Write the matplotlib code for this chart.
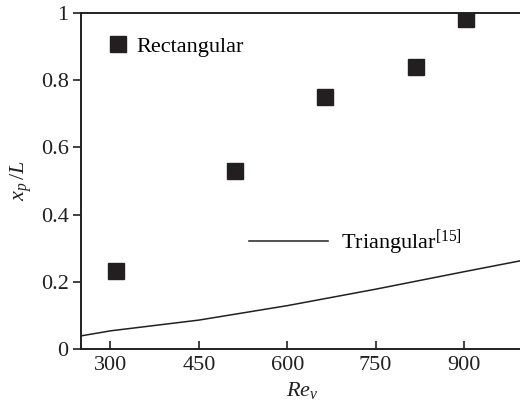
import matplotlib
matplotlib.use("Agg")
import matplotlib.pyplot as plt
from matplotlib.lines import Line2D

plt.rcParams['font.family'] = ['Liberation Serif', 'DejaVu Serif']
plt.rcParams['mathtext.fontset'] = 'custom'
plt.rcParams['mathtext.rm'] = 'Liberation Serif'
plt.rcParams['mathtext.it'] = 'Liberation Serif:italic'
plt.rcParams['mathtext.bf'] = 'Liberation Serif:bold'

# Data
rect_re = [310, 511, 664, 818, 903]
rect_xp = [0.232, 0.53, 0.75, 0.839, 0.982]
tri_re = [250, 300, 450, 600, 750, 900, 1000]
tri_xp = [0.039, 0.054, 0.086, 0.129, 0.178, 0.230, 0.264]
xticks = [300, 450, 600, 750, 900]
yticks = [0, 0.2, 0.4, 0.6, 0.8, 1]
ytick_labels = ['0', '0.2', '0.4', '0.6', '0.8', '1']

fig = plt.figure(figsize=(5.2, 4.05), dpi=100)
ax = fig.add_axes([0.1558, 0.1383, 0.85, 0.8296])
col = '#231f20'

ax.plot(tri_re, tri_xp, color=col, lw=1.1)
ax.plot(rect_re, rect_xp, ls='none', marker='s', ms=11, color=col)

ax.set_xlim(250, 1000)
ax.set_ylim(0, 1)
ax.set_xticks(xticks)
ax.set_yticks(yticks)
ax.set_yticklabels(ytick_labels)
ax.tick_params(axis='x', direction='in', length=6, width=1.2, labelsize=16, pad=5, colors=col)
ax.tick_params(axis='y', direction='out', length=6, width=1.2, labelsize=16, pad=3, colors=col)
for s in ax.spines.values():
    s.set_linewidth(1.4)
    s.set_color(col)

ax.set_xlabel(r'$Re_v$', fontsize=16, labelpad=4, color=col)
ax.set_ylabel(r'$x_p\,/L$', fontsize=16, labelpad=5, color=col)

h1 = Line2D([], [], ls='none', marker='s', ms=11, color=col)
h2 = Line2D([], [], color=col, lw=1.1)
leg1 = ax.legend([h1], ['Rectangular'], loc='center left', bbox_to_anchor=(0.023, 0.899),
                 frameon=False, fontsize=16, handlelength=1.0, handletextpad=0.35, borderpad=0.2)
ax.add_artist(leg1)
leg2 = ax.legend([h2], [r'Triangular$^{[15]}$'], loc='center left', bbox_to_anchor=(0.345, 0.316),
                 frameon=False, fontsize=16, handlelength=3.55, handletextpad=0.6, borderpad=0.2)

fig.savefig('out.png', dpi=100)
